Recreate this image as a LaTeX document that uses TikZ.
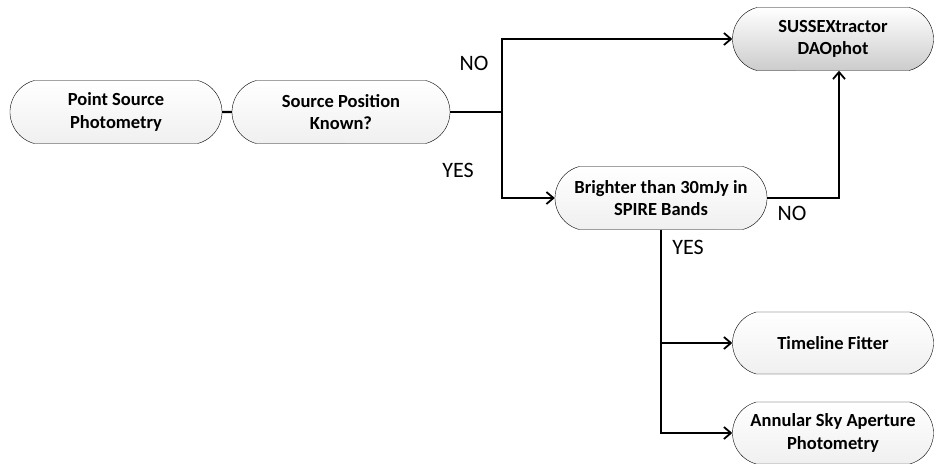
\documentclass[tikz,border=0pt]{standalone}
\usepackage{fontspec}
\setmainfont{Carlito}
\usetikzlibrary{shapes.misc,arrows.meta}
\tikzset{pixels/.style={x=1pt,y=-1pt}}
\tikzset{stage/.style={rounded rectangle,rounded rectangle arc length=150,draw,thin,
  align=center,minimum width=214pt,minimum height=63pt,inner sep=1pt,
  top color=white,bottom color=gray!12,font=\bfseries\fontsize{18.5}{22.5}\selectfont}}
\tikzset{result/.style={stage,bottom color=gray!40}}
\tikzset{wire/.style={line width=2.2pt}}
\tikzset{link/.style={wire,-{Straight Barb[length=7pt,width=12pt,line width=1.8pt]}}}
\tikzset{answer/.style={inner sep=0pt,font=\fontsize{22}{26}\selectfont}}

\begin{document}
\begin{tikzpicture}[pixels]
  \useasboundingbox (0,0) rectangle (936,463);
  \node[stage] (psp) at (116,112) {Point Source\\Photometry};
  \node[stage,minimum width=220pt] (known) at (341,112) {Source Position\\Known?};
  \node[result,minimum width=203pt] (sussex) at (833,39) {SUSSEXtractor\\DAOphot};
  \node[stage] (bright) at (661,198) {Brighter than 30mJy in\\SPIRE Bands};
  \node[stage,minimum width=203pt,minimum height=62pt] (fitter) at (833,343) {Timeline Fitter};
  \node[stage,minimum width=203pt,minimum height=62pt] (annular) at (833,433) {Annular Sky Aperture\\Photometry};
  \coordinate (split) at (502,112);
  % answers
  \node[answer] (no1) at (474,63) {NO};
  \node[answer] (yes1) at (458,170) {YES};
  \node[answer] (no2) at (792,213) {NO};
  \node[answer] (yes2) at (688,247) {YES};
  % connectors
  \draw[wire] (psp) -- (known);
  \draw[wire] (known.east) -- (split);
  \draw[link] (split) |- (sussex.west);
  \draw[link] (split) |- (bright.west);
  \draw[link] (bright.east) -| ([xshift=6pt]sussex.south);
  \draw[link] (bright.south) |- (annular.west);
  \draw[link] (bright.south |- fitter.west) -- (fitter.west);
\end{tikzpicture}
\end{document}
